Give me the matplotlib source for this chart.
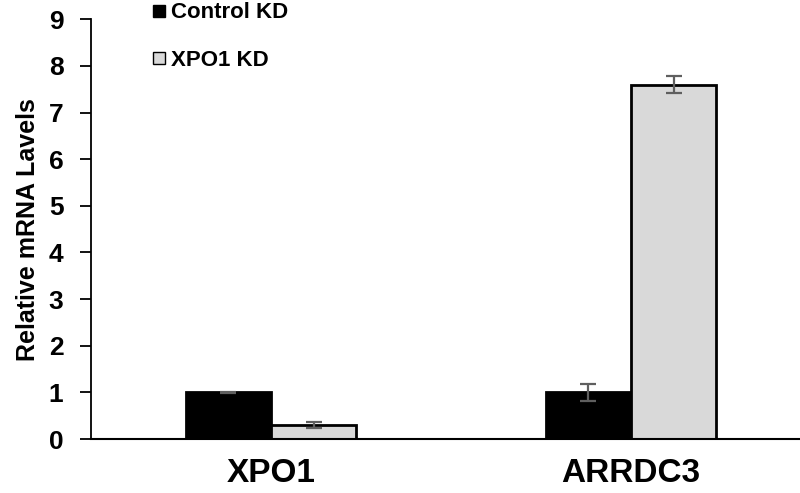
import numpy as np
import matplotlib.pyplot as plt
from matplotlib.lines import Line2D

plt.rcParams['font.family'] = ['Liberation Sans', 'DejaVu Sans']
plt.rcParams['font.weight'] = 'bold'

genes = ['XPO1', 'ARRDC3']
series = ['Control KD', 'XPO1 KD']
control = [1.0, 1.0]
control_err = [0.01, 0.18]
xpo1kd = [0.30, 7.60]
xpo1kd_err = [0.07, 0.19]

colors = ['#000000', '#d9d9d9']

fig = plt.figure(figsize=(8, 4.93), dpi=100)
ax = fig.add_axes([0.114, 0.1095, 0.886, 0.8515])

x = np.arange(len(genes))
w = 0.237
err_kw = dict(ecolor='#5f5f5f', elinewidth=1.6, capsize=6, capthick=1.6)
ax.bar(x - w / 2, control, w, color=colors[0], edgecolor='black', linewidth=2,
       yerr=control_err, error_kw=err_kw, zorder=2)
ax.bar(x + w / 2, xpo1kd, w, color=colors[1], edgecolor='black', linewidth=2,
       yerr=xpo1kd_err, error_kw=err_kw, zorder=2)

ax.set_xlim(-0.5, 1.47)
ax.set_ylim(0, 9)
ax.set_yticks(range(0, 10))
ax.set_xticks(x)
ax.set_xticklabels(genes, fontsize=24, fontweight='bold')
ax.tick_params(axis='x', length=0, pad=14)
ax.tick_params(axis='y', labelsize=19, length=8, width=1.3, pad=12)
for t in ax.get_yticklabels():
    t.set_fontweight('bold')
ax.set_ylabel('Relative mRNA Lavels', fontsize=18, fontweight='bold')
ax.yaxis.set_label_coords((40 - 91) / (0.886 * 800), 0.5)

ax.spines['top'].set_visible(False)
ax.spines['right'].set_visible(False)
ax.spines['left'].set_linewidth(1.3)
ax.spines['bottom'].set_linewidth(1.5)

handles = [Line2D([], [], marker='s', linestyle='none', markersize=9,
                  markerfacecolor=c, markeredgecolor='black', markeredgewidth=1)
           for c in colors]
leg = ax.legend(handles, series, loc='upper left', bbox_to_anchor=(0.19, 0.995),
                bbox_transform=fig.transFigure, frameon=False,
                handlelength=0.6, handletextpad=0.25, labelspacing=1.2,
                borderpad=0, borderaxespad=0,
                prop={'weight': 'bold', 'size': 16})

fig.savefig('out.png', dpi=100)
